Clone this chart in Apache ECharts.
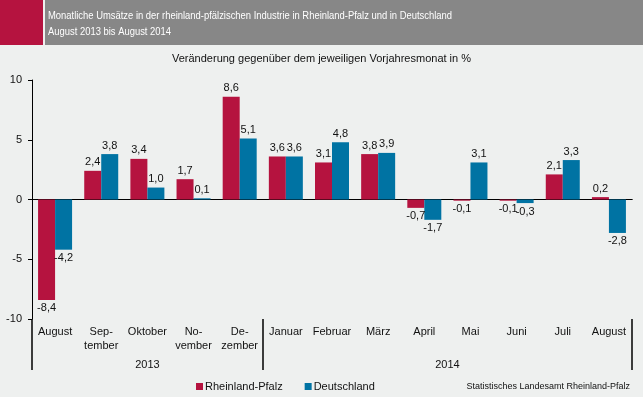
<!DOCTYPE html>
<html>
<head>
<meta charset="utf-8">
<script src="https://cdn.jsdelivr.net/npm/echarts@6/dist/echarts.min.js"></script>
<style>
  html, body { margin: 0; padding: 0; background: #eef0ef; }
  #chart { width: 643px; height: 397px; }
</style>
</head>
<body>
<div id="chart"></div>
<script>
// Monatsnamen (Kategorieachse)
var months = ['August', 'Sep-\ntember', 'Oktober', 'No-\nvember', 'De-\nzember', 'Januar', 'Februar', 'März', 'April', 'Mai', 'Juni', 'Juli', 'August'];
// Jahresbeschriftung auf Halbschritt-Achse (27 Punkte, 0..26)
var years = ['', '', '', '', '', '2013', '', '', '', '', '', '', '', '', '', '', '', '', '2014', '', '', '', '', '', '', '', ''];
var yearBreaks = [0, 10, 26];
// Veränderung gegenüber Vorjahresmonat in %
var rlp = [-8.4, 2.4, 3.4, 1.7, 8.6, 3.6, 3.1, 3.8, -0.7, -0.1, -0.1, 2.1, 0.2];
var de = [-4.2, 3.8, 1.0, 0.1, 5.1, 3.6, 4.8, 3.9, -1.7, 3.1, -0.3, 3.3, -2.8];
var yTicks = [-10, -5, 0, 5, 10];

var font = 'Liberation Sans, Arial, sans-serif';
var red = '#b5133f';
var blue = '#0073a3';

function toItems(arr) {
  return arr.map(function (v) {
    return { value: v, label: { position: v < 0 ? 'bottom' : 'top' } };
  });
}
function fmt(p) {
  return p.value.toFixed(1).replace('.', ',');
}

var chart = echarts.init(document.getElementById('chart'));

chart.setOption({
  backgroundColor: '#eef0ef',
  animation: false,
  textStyle: { fontFamily: font },
  graphic: [
    { type: 'rect', left: 0, top: 0, shape: { width: 43, height: 45 }, style: { fill: '#b5133f' } },
    { type: 'rect', left: 45, top: 0, shape: { width: 598, height: 45 }, style: { fill: '#878787' } },
    { type: 'text', x: 48, y: 8, scaleX: 0.856, style: { text: 'Monatliche Umsätze in der rheinland-pfälzischen Industrie in Rheinland-Pfalz und in Deutschland\nAugust 2013 bis August 2014', fill: '#fff', font: '11px ' + font, lineHeight: 16 } },
    { type: 'text', left: 'center', top: 53, style: { text: 'Veränderung gegenüber dem jeweiligen Vorjahresmonat in %', fill: '#111', font: '11px ' + font } },
    { type: 'text', right: 13, top: 382, style: { text: 'Statistisches Landesamt Rheinland-Pfalz', fill: '#111', font: '9px ' + font } }
  ],
  legend: {
    left: 191, top: 376,
    itemWidth: 7, itemHeight: 7, itemGap: 22,
    icon: 'rect',
    textStyle: { fontSize: 11, color: '#111', padding: [0, 0, 0, -3] },
    data: ['Rheinland-Pfalz', 'Deutschland']
  },
  grid: { left: 32, right: 11, top: 80, bottom: 78 },
  yAxis: [{
    type: 'value', min: -10, max: 10, interval: 5,
    axisLine: { show: true, lineStyle: { color: '#000' } },
    axisTick: { show: true, length: 4, lineStyle: { color: '#000' } },
    axisLabel: { color: '#111', fontSize: 11, margin: 10,
      customValues: yTicks },
    splitLine: { show: false }
  }, {
    type: 'value', min: -10, max: 10, show: false
  }],
  xAxis: [{
    // Nulllinie, Striche nach unten
    type: 'category', data: months,
    axisLine: { onZero: true, lineStyle: { color: '#000' } },
    axisTick: { length: 4, interval: 0, lineStyle: { color: '#000' } },
    axisLabel: { show: false }
  }, {
    // Nulllinie, Striche nach oben
    type: 'category', data: months,
    axisLine: { onZero: true, lineStyle: { color: '#000' } },
    axisTick: { length: 4, inside: true, interval: 0, lineStyle: { color: '#000' } },
    axisLabel: { show: false }
  }, {
    // Monatsnamen unten
    type: 'category', data: months, position: 'bottom',
    axisLine: { show: false, onZero: false },
    axisTick: { length: 33, interval: 0, lineStyle: { color: '#000' } },
    axisLabel: { interval: 0, color: '#111', fontSize: 11, lineHeight: 14, margin: 6 }
  }, {
    // Jahre
    type: 'category', data: years, position: 'bottom', boundaryGap: false,
    axisLine: { show: false, onZero: false },
    axisTick: { length: 51, interval: function (i) { return yearBreaks.indexOf(i) >= 0; }, lineStyle: { color: '#000', width: 1.5 } },
    axisLabel: { interval: 0, color: '#111', fontSize: 11, margin: 40 }
  }],
  series: [{
    name: 'Rheinland-Pfalz', type: 'bar', xAxisIndex: 0, yAxisIndex: 0,
    data: toItems(rlp), barWidth: 17, barGap: 0,
    itemStyle: { color: red },
    label: { show: true, formatter: fmt, color: '#111', fontSize: 11, distance: 3 }
  }, {
    name: 'Deutschland', type: 'bar', xAxisIndex: 0, yAxisIndex: 0,
    data: toItems(de), barWidth: 17, barGap: 0,
    itemStyle: { color: blue },
    label: { show: true, formatter: fmt, color: '#111', fontSize: 11, distance: 3 }
  }]
});
</script>
</body>
</html>
